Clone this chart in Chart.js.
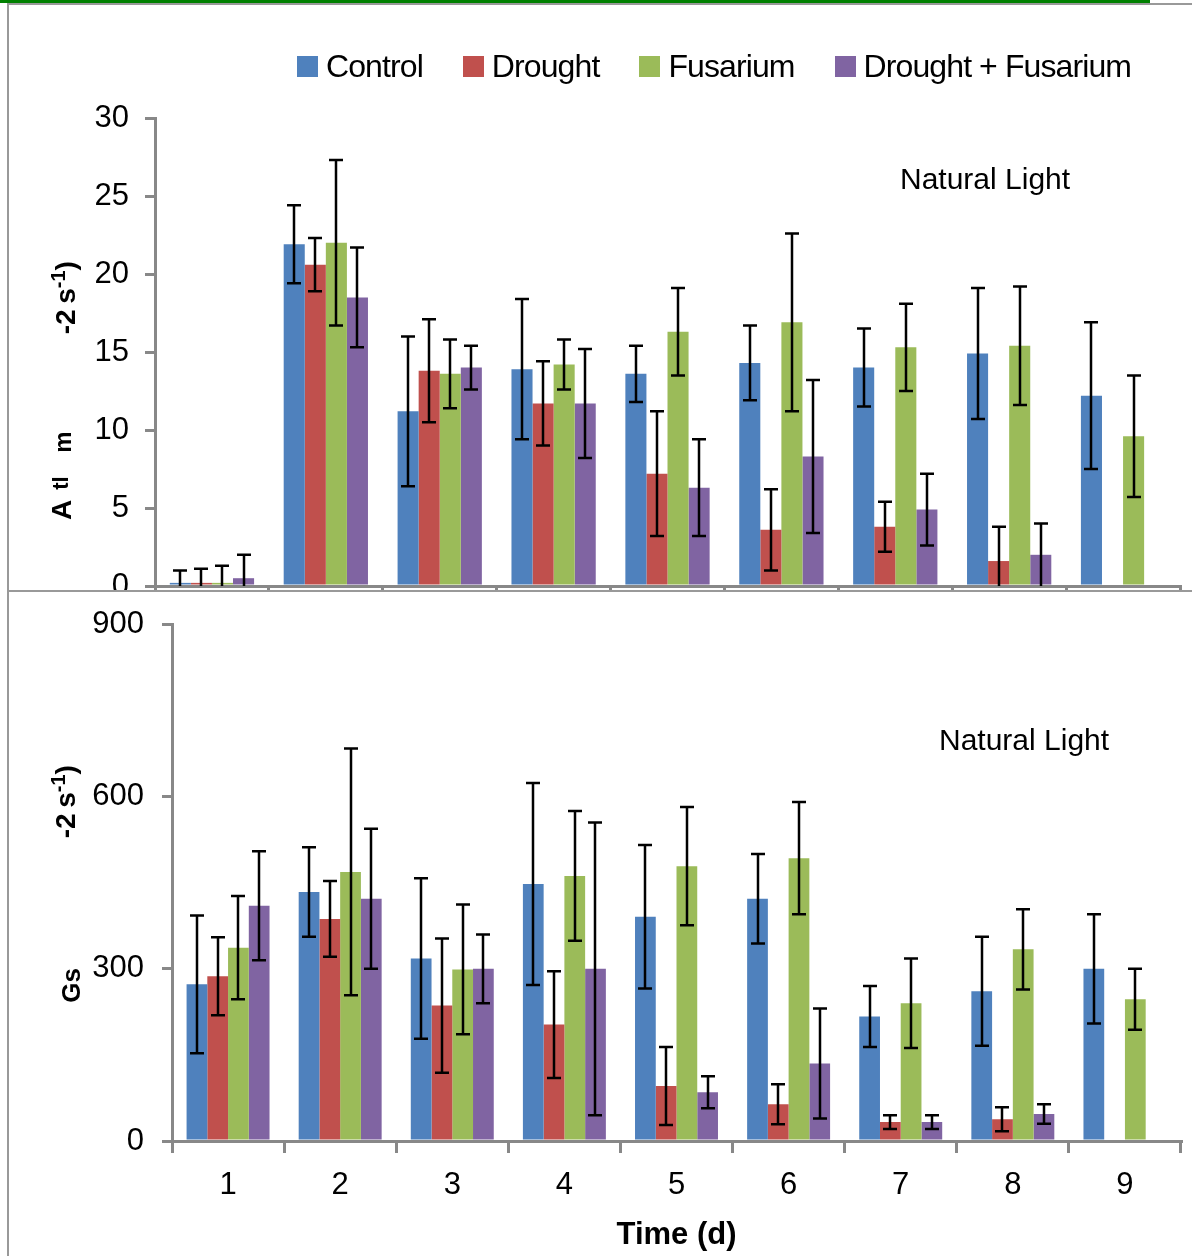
<!DOCTYPE html>
<html>
<head>
<meta charset="utf-8">
<script src="https://cdn.jsdelivr.net/npm/chart.js@4.4.1/dist/chart.umd.min.js"></script>
<style>
  body { margin: 0; background: #fff; }
  #wrap { position: relative; width: 1192px; height: 1256px; overflow: hidden; background: #fff; font-family: "Liberation Sans", Arial, sans-serif; }
  canvas { position: absolute; left: 0; }
  .line { position: absolute; }
  .legend { position: absolute; top: 48px; left: 297px; display: flex; align-items: center; font-size: 32px; letter-spacing: -0.9px; color: #000; }
  .legend span.box { display: inline-block; width: 21px; height: 21px; margin-right: 8px; }
  .legend span.lbl { margin-right: 40px; }
  .note { position: absolute; font-size: 30px; letter-spacing: 0px; color: #000; white-space: nowrap; }
  .ytitle { position: absolute; font-weight: bold; font-size: 28px; color: #000; white-space: nowrap; transform: rotate(-90deg); transform-origin: center center; }
  .ytitle sup { font-size: 20px; }
</style>
</head>
<body>
<div id="wrap">
  <canvas id="top" width="1192" height="640" style="top:0"></canvas>
  <div class="line" style="left:0;top:590px;width:1192px;height:666px;background:#fff"></div>
  <canvas id="bottom" width="1192" height="668" style="top:588px"></canvas>

  <div class="line" style="left:0;top:0;width:1150px;height:3px;background:#008000"></div>
  <div class="line" style="left:7px;top:3px;width:1185px;height:2px;background:#999"></div>
  <div class="line" style="left:7px;top:3px;width:2px;height:1253px;background:#999"></div>
  <div class="line" style="left:9px;top:590px;width:1183px;height:2px;background:#999"></div>

  <div class="legend" id="legend"></div>
  <div class="note" style="left:900px;top:162px">Natural Light</div>
  <div class="note" style="left:939px;top:723px">Natural Light</div>

  <div class="ytitle" style="left:52px;top:494px">A</div>
  <div class="ytitle" style="left:54px;top:470px;font-size:22px">tl</div>
  <div class="ytitle" style="left:52px;top:428px;font-size:24px">m</div>
  <div class="ytitle" style="left:28px;top:280px">-2<sup> </sup>s<sup>-1</sup>)</div>

  <div class="ytitle" style="left:54px;top:970px;font-size:26px">Gs</div>
  <div class="ytitle" style="left:28px;top:784px">-2<sup> </sup>s<sup>-1</sup>)</div>
</div>

<script>
// categories
const days = ['1', '2', '3', '4', '5', '6', '7', '8', '9'];
const seriesNames = ['Control', 'Drought', 'Fusarium', 'Drought + Fusarium'];
const seriesColors = ['#4F81BD', '#C0504D', '#9BBB59', '#8064A2'];

// top panel: net photosynthesis (means and error)
const topControl = [0.2, 21.9, 11.2, 13.9, 13.6, 14.3, 14.0, 14.9, 12.2];
const topDrought = [0.2, 20.6, 13.8, 11.7, 7.2, 3.6, 3.8, 1.6, null];
const topFusarium = [0.2, 22.0, 13.6, 14.2, 16.3, 16.9, 15.3, 15.4, 9.6];
const topDroughtFus = [0.5, 18.5, 14.0, 11.7, 6.3, 8.3, 4.9, 2.0, null];
const topControlErr = [0.8, 2.5, 4.8, 4.5, 1.8, 2.4, 2.5, 4.2, 4.7];
const topDroughtErr = [0.9, 1.7, 3.3, 2.7, 4.0, 2.6, 1.6, 2.2, null];
const topFusariumErr = [1.1, 5.3, 2.2, 1.6, 2.8, 5.7, 2.8, 3.8, 3.9];
const topDroughtFusErr = [1.5, 3.2, 1.4, 3.5, 3.1, 4.9, 2.3, 2.0, null];

// bottom panel: stomatal conductance (means and error)
const botControl = [273, 434, 318, 448, 391, 422, 217, 261, 300];
const botDrought = [287, 387, 236, 203, 96, 64, 33, 38, null];
const botFusarium = [337, 469, 299, 462, 479, 493, 240, 334, 247];
const botDroughtFus = [410, 422, 300, 300, 85, 135, 33, 47, null];
const botControlErr = [120, 78, 140, 176, 125, 78, 53, 95, 95];
const botDroughtErr = [68, 66, 117, 93, 68, 35, 12, 21, null];
const botFusariumErr = [90, 215, 113, 113, 103, 98, 78, 70, 53];
const botDroughtFusErr = [95, 122, 60, 255, 28, 96, 12, 17, null];

// axis ticks
const topTicks = [0, 5, 10, 15, 20, 25, 30];
const botTicks = [0, 300, 600, 900];

// html legend
const legendEl = document.getElementById('legend');
seriesNames.forEach((name, i) => {
    const box = document.createElement('span');
    box.className = 'box';
    box.style.background = seriesColors[i];
    const lbl = document.createElement('span');
    lbl.className = 'lbl';
    lbl.textContent = name;
    legendEl.appendChild(box);
    legendEl.appendChild(lbl);
});

// draws the whiskers from the errors stored on each dataset
const errorBars = {
    id: 'errorBars',
    afterDatasetsDraw(chart) {
        const ctx = chart.ctx;
        const yScale = chart.scales.y;
        ctx.save();
        ctx.strokeStyle = '#000';
        ctx.lineWidth = 2.5;
        chart.data.datasets.forEach((ds, i) => {
            const meta = chart.getDatasetMeta(i);
            meta.data.forEach((bar, j) => {
                const v = ds.data[j];
                const e = ds.errors[j];
                if (v == null || e == null) return;
                const yTop = yScale.getPixelForValue(v + e);
                const yBot = yScale.getPixelForValue(Math.max(v - e, yScale.min));
                const x = Math.round(bar.x);
                const cap = 7;
                ctx.beginPath();
                ctx.moveTo(x, yTop);
                ctx.lineTo(x, yBot);
                ctx.moveTo(x - cap, yTop);
                ctx.lineTo(x + cap, yTop);
                if (v - e > yScale.min) {
                    ctx.moveTo(x - cap, yBot);
                    ctx.lineTo(x + cap, yBot);
                }
                ctx.stroke();
            });
        });
        ctx.restore();
    }
};

function makeDatasets(values, errors) {
    return values.map((vals, i) => ({
        label: seriesNames[i],
        data: vals,
        errors: errors[i],
        backgroundColor: seriesColors[i],
        borderWidth: 0,
        barPercentage: 1.0,
        categoryPercentage: 0.74
    }));
}

function makeChart(canvasId, datasets, opts) {
    return new Chart(document.getElementById(canvasId), {
        type: 'bar',
        data: { labels: days, datasets: datasets },
        plugins: [errorBars],
        options: {
            responsive: false,
            animation: false,
            events: [],
            layout: { padding: { top: opts.padTop, right: opts.padRight, left: 0, bottom: 0 } },
            plugins: { legend: { display: false }, tooltip: { enabled: false } },
            scales: {
                x: {
                    grid: { display: true, drawOnChartArea: false, drawTicks: true, tickLength: 12, color: '#888', lineWidth: 3, offset: true },
                    border: { display: true, color: '#888', width: 3 },
                    ticks: {
                        display: opts.showX,
                        color: '#000',
                        font: { size: 31, family: '"Liberation Sans", Arial, sans-serif' },
                        padding: 14
                    },
                    title: {
                        display: opts.showX,
                        text: 'Time (d)',
                        color: '#000',
                        font: { size: 31, weight: 'bold', family: '"Liberation Sans", Arial, sans-serif' },
                        padding: { top: 0, bottom: 2 }
                    },
                    afterFit(scale) { scale.height = opts.xHeight; }
                },
                y: {
                    min: opts.min,
                    max: opts.max,
                    afterBuildTicks(scale) { scale.ticks = opts.ticks.map(v => ({ value: v })); },
                    grid: { display: true, drawOnChartArea: false, drawTicks: true, tickLength: 10, color: '#888', lineWidth: 3 },
                    border: { display: true, color: '#888', width: 3 },
                    ticks: {
                        color: '#000',
                        font: { size: 31, family: '"Liberation Sans", Arial, sans-serif' },
                        padding: opts.yPad
                    },
                    afterFit(scale) { scale.width = opts.yWidth; }
                }
            }
        }
    });
}

makeChart('top',
    makeDatasets([topControl, topDrought, topFusarium, topDroughtFus],
                 [topControlErr, topDroughtErr, topFusariumErr, topDroughtFusErr]),
    { padTop: 118, padRight: 12, xHeight: 54, yWidth: 155, yPad: 16, min: 0, max: 30, ticks: topTicks, showX: false });

makeChart('bottom',
    makeDatasets([botControl, botDrought, botFusarium, botDroughtFus],
                 [botControlErr, botDroughtErr, botFusariumErr, botDroughtFusErr]),
    { padTop: 27, padRight: 11, xHeight: 115, yWidth: 172, yPad: 18, min: 0, max: 900, ticks: botTicks, showX: true });
</script>
</body>
</html>
